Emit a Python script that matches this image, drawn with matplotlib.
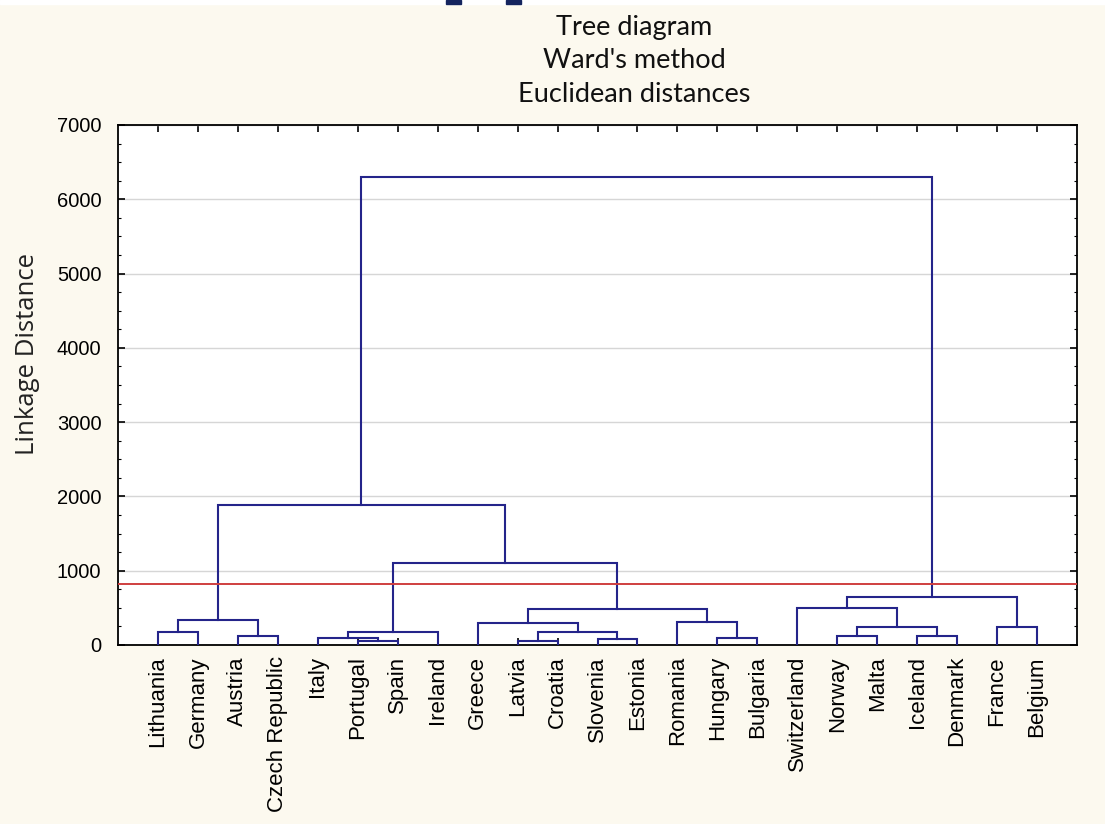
import matplotlib.pyplot as plt
from matplotlib.patches import Rectangle
from matplotlib.ticker import MultipleLocator

labels = ['Lithuania', 'Germany', 'Austria', 'Czech Republic', 'Italy',
          'Portugal', 'Spain', 'Ireland', 'Greece', 'Latvia', 'Croatia',
          'Slovenia', 'Estonia', 'Romania', 'Hungary', 'Bulgaria',
          'Switzerland', 'Norway', 'Malta', 'Iceland', 'Denmark',
          'France', 'Belgium']

# merge k joins merge_left[k] and merge_right[k] into cluster len(labels) + k
merge_left = [5, 9, 11, 4, 14, 17, 19, 2, 24, 0, 26, 28, 21, 8, 13, 32,
              36, 16, 40, 33, 38, 43]
merge_right = [6, 10, 12, 23, 15, 18, 20, 3, 25, 1, 7, 29, 22, 31, 27, 30,
               37, 34, 35, 39, 42, 41]
merge_height = [54, 58, 76, 98, 98, 121, 121, 121, 170, 178, 180, 238, 238,
                299, 313, 335, 479, 501, 648, 1100, 1880, 6300]

cut_height = 820

line_color = '#24248a'
bg_color = '#fcf9ef'

plt.rcParams['font.family'] = ['Liberation Sans', 'DejaVu Sans']

fig = plt.figure(figsize=(11.05, 8.24), dpi=100, facecolor=bg_color)
ax = fig.add_axes([118 / 1105, 1 - 645 / 824, 959 / 1105, 520 / 824])
ax.set_facecolor('white')

# cluster positions: leaves sit at 1..n, joined clusters at the midpoint
pos_x = {i: i + 1 for i in range(len(labels))}
pos_y = {i: 0 for i in range(len(labels))}
for k in range(len(merge_left)):
    a, b, h = merge_left[k], merge_right[k], merge_height[k]
    ax.plot([pos_x[a], pos_x[a], pos_x[b], pos_x[b]],
            [pos_y[a], h, h, pos_y[b]],
            color=line_color, lw=1.5, zorder=3, solid_joinstyle='miter')
    cid = len(labels) + k
    pos_x[cid] = (pos_x[a] + pos_x[b]) / 2
    pos_y[cid] = h

ax.axhline(cut_height, color='#cf3f3f', lw=1.4, zorder=4)

ax.set_xlim(0, len(labels) + 1)
ax.set_ylim(0, 7000)
ax.set_xticks(range(1, len(labels) + 1))
ax.set_xticklabels(labels, rotation=90, fontsize=16)
ax.yaxis.set_major_locator(MultipleLocator(1000))
ax.yaxis.set_minor_locator(MultipleLocator(250))
ax.tick_params(axis='y', labelsize=14.5, pad=12)
ax.tick_params(axis='x', pad=8)
ax.tick_params(which='major', direction='in', length=5, width=1.2,
               top=True, right=True)
ax.tick_params(which='minor', direction='in', length=2.5, width=0.8,
               right=True)
ax.grid(axis='y', which='major', color='#d6d6d6', lw=1, zorder=0)
ax.set_axisbelow(True)
for sp in ax.spines.values():
    sp.set_linewidth(1.3)

ax.set_ylabel('Linkage Distance', fontsize=18.5, family='Open Sans',
              color='#222222')
ax.yaxis.set_label_coords(-0.081, 0.56)

fig.text(634 / 1105, 1 - 61 / 824,
         "Tree diagram\nWard's method\nEuclidean distances",
         ha='center', va='center', fontsize=19.5, family='Lato',
         linespacing=1.45, color='#111111')

# white band and dark blocks along the top edge
fig.patches.append(Rectangle((0, 1 - 4 / 824), 1, 4 / 824,
                             transform=fig.transFigure, color='white'))
for x0 in (446, 506):
    fig.patches.append(Rectangle((x0 / 1105, 1 - 4 / 824), 15 / 1105, 4 / 824,
                                 transform=fig.transFigure, color='#14245e'))

fig.savefig('out.png', dpi=100, facecolor=bg_color)
